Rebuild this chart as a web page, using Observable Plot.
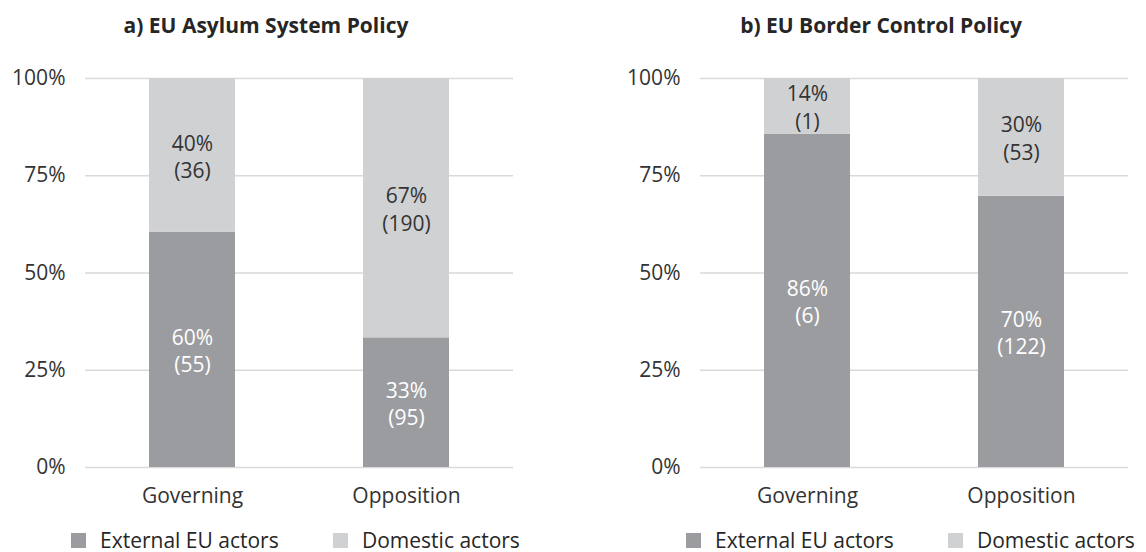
<!DOCTYPE html>
<html>
<head>
<meta charset="utf-8">
<script src="https://cdn.jsdelivr.net/npm/d3@7"></script>
<script src="https://cdn.jsdelivr.net/npm/@observablehq/plot@0.6"></script>
<style>
  html, body { margin: 0; padding: 0; background: #fff; }
  body { width: 1146px; height: 552px; position: relative; overflow: hidden; font-family: "Open Sans", sans-serif; }
  .panel { position: absolute; top: 0; width: 531px; height: 552px; }
  .title { position: absolute; top: 15px; font-weight: bold; font-size: 21px; line-height: 21px; color: #262626; white-space: nowrap; transform: translateX(-50%); }
  .chart { position: absolute; top: 50px; left: 0; }
  .legend { position: absolute; top: 530px; left: 0; width: 531px; height: 21px; }
  .item { position: absolute; top: 0; font-size: 21px; color: #262626; line-height: 21px; white-space: nowrap; }
  .sw { position: absolute; width: 15px; height: 15px; top: 3px; }
</style>
</head>
<body>
<script>
// ---- data ----
const categories = ["Governing", "Opposition"];
const actors = ["External EU actors", "Domestic actors"];
const panelTitles = ["a) EU Asylum System Policy", "b) EU Border Control Policy"];
// counts per category [Governing, Opposition]
const asylumExternal = [55, 95];
const asylumDomestic = [36, 190];
const borderExternal = [6, 122];
const borderDomestic = [1, 53];
const yTicks = [0, 0.25, 0.5, 0.75, 1];
const colors = ["#9b9c9f", "#d0d1d3"];
const labelColors = ["#ffffff", "#333333"];

function rows(ext, dom) {
  const out = [];
  categories.forEach((c, i) => {
    const total = ext[i] + dom[i];
    out.push({cat: c, actor: actors[0], n: ext[i], pct: ext[i] / total});
    out.push({cat: c, actor: actors[1], n: dom[i], pct: dom[i] / total});
  });
  return out;
}

const panels = [rows(asylumExternal, asylumDomestic), rows(borderExternal, borderDomestic)];
const offsets = [0, 615];

panels.forEach((data, k) => {
  const panel = document.createElement("div");
  panel.className = "panel";
  panel.style.left = offsets[k] + "px";
  document.body.appendChild(panel);

  const t = document.createElement("div");
  t.className = "title";
  t.style.left = "266px";
  t.textContent = panelTitles[k];
  panel.appendChild(t);

  const chart = Plot.plot({
    width: 531,
    height: 470,
    marginLeft: 85,
    marginRight: 18,
    marginTop: 28,
    marginBottom: 53,
    style: {fontFamily: "Open Sans, sans-serif", fontSize: "21px", color: "#333333", background: "transparent"},
    x: {domain: categories, paddingInner: 0.598, paddingOuter: 0.299, label: null, tickSize: 0, tickPadding: 21},
    y: {domain: [0, 1], ticks: yTicks, tickFormat: d => Math.round(d * 100) + "%", label: null, tickSize: 0, tickPadding: 20},
    color: {domain: actors, range: colors},
    marks: [
      Plot.gridY(yTicks, {stroke: "#d9d9d9", strokeOpacity: 1, strokeWidth: 1.5}),
      Plot.barY(data, Plot.stackY({x: "cat", y: "n", fill: "actor", order: actors, offset: "normalize"})),
      Plot.text(data, Plot.stackY({
        x: "cat", y: "n", z: "actor", order: actors, offset: "normalize",
        text: d => Math.round(d.pct * 100) + "%\n(" + d.n + ")",
        fill: d => labelColors[actors.indexOf(d.actor)],
        lineHeight: 1.3,
        fontSize: 21
      })),
      Plot.axisX({tickSize: 0, tickPadding: 21, fontSize: 21}),
      Plot.axisY({ticks: yTicks, tickSize: 0, tickPadding: 20, fontSize: 21, tickFormat: d => Math.round(d * 100) + "%"})
    ]
  });
  chart.classList.add("chart");
  panel.appendChild(chart);

  const legend = document.createElement("div");
  legend.className = "legend";
  const swX = [71, 333];
  const txX = [100, 362];
  actors.forEach((a, i) => {
    const sw = document.createElement("div");
    sw.className = "sw";
    sw.style.left = swX[i] + "px";
    sw.style.background = colors[i];
    legend.appendChild(sw);
    const it = document.createElement("div");
    it.className = "item";
    it.style.left = txX[i] + "px";
    it.textContent = a;
    legend.appendChild(it);
  });
  panel.appendChild(legend);
});
</script>
</body>
</html>
